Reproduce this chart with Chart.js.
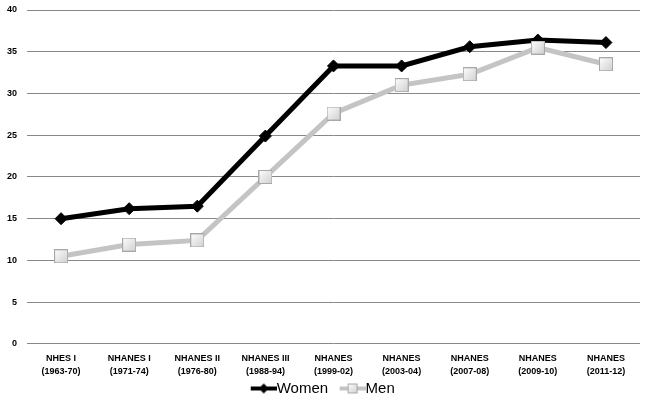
<!DOCTYPE html>
<html>
<head>
<meta charset="utf-8">
<script src="https://cdn.jsdelivr.net/npm/chart.js@4"></script>
<style>
  html, body { margin: 0; padding: 0; background: #fff; }
  #wrap { width: 645px; height: 402px; }
</style>
</head>
<body>
<div id="wrap"><canvas id="chart"></canvas></div>
<script>
// survey periods (two-line labels)
var categories = [
  ['NHES I', '(1963-70)'],
  ['NHANES I', '(1971-74)'],
  ['NHANES II', '(1976-80)'],
  ['NHANES III', '(1988-94)'],
  ['NHANES', '(1999-02)'],
  ['NHANES', '(2003-04)'],
  ['NHANES', '(2007-08)'],
  ['NHANES', '(2009-10)'],
  ['NHANES', '(2011-12)']
];
var women = [15.0, 16.2, 16.5, 24.9, 33.3, 33.3, 35.6, 36.4, 36.1];
var men = [10.5, 11.9, 12.4, 20.0, 27.6, 31.0, 32.3, 35.5, 33.5];
var yTicks = [0, 5, 10, 15, 20, 25, 30, 35, 40];

// square marker with a light gradient, like the original
function squareMarker(size) {
  var c = document.createElement('canvas');
  c.width = size; c.height = size;
  var g = c.getContext('2d');
  var grad = g.createLinearGradient(0, 0, size, size);
  grad.addColorStop(0, '#ffffff');
  grad.addColorStop(1, '#cfcfcf');
  g.fillStyle = grad;
  g.fillRect(0.5, 0.5, size - 1, size - 1);
  g.strokeStyle = '#a8a8a8';
  g.lineWidth = 1;
  g.strokeRect(0.5, 0.5, size - 1, size - 1);
  return c;
}

// legend icon: thick line with the marker in the middle,
// with some empty room on the left so the text sits right after it
var ICON_PAD = 16;
function legendIcon(color, kind) {
  var c = document.createElement('canvas');
  c.width = ICON_PAD + 26; c.height = 12;
  var g = c.getContext('2d');
  g.translate(ICON_PAD, 0);
  g.strokeStyle = color;
  g.lineWidth = 4;
  g.beginPath(); g.moveTo(0, 6); g.lineTo(26, 6); g.stroke();
  if (kind === 'diamond') {
    g.fillStyle = '#000';
    g.beginPath();
    g.moveTo(13, 1); g.lineTo(18, 6); g.lineTo(13, 11); g.lineTo(8, 6);
    g.closePath(); g.fill();
  } else {
    g.drawImage(squareMarker(10), 8, 1);
  }
  return c;
}

var menMarker = squareMarker(14);

new Chart(document.getElementById('chart'), {
  type: 'line',
  data: {
    labels: categories,
    datasets: [
      {
        label: 'Women',
        data: women,
        borderColor: '#000000',
        borderWidth: 5,
        pointStyle: 'rectRot',
        pointRadius: 6,
        pointBackgroundColor: '#000000',
        pointBorderColor: '#000000',
        pointBorderWidth: 1,
        order: 2,
        tension: 0
      },
      {
        label: 'Men',
        data: men,
        borderColor: '#c4c4c4',
        borderWidth: 5,
        pointStyle: menMarker,
        pointRadius: 7,
        order: 1,
        tension: 0
      }
    ]
  },
  options: {
    responsive: true,
    maintainAspectRatio: false,
    animation: false,
    layout: { autoPadding: false, padding: { left: -3, right: 5, top: 0, bottom: -4 } },
    scales: {
      x: {
        offset: true,
        grid: { display: false },
        border: { display: false },
        ticks: {
          color: '#000',
          font: { family: 'Liberation Sans', size: 9, weight: 'bold', lineHeight: 1.45 },
          maxRotation: 0,
          autoSkip: false,
          padding: 0
        }
      },
      y: {
        min: 0,
        max: 40,
        afterBuildTicks: function (axis) {
          axis.ticks = yTicks.map(function (v) { return { value: v }; });
        },
        afterFit: function (axis) {
          axis.paddingTop = 10;
          axis.paddingBottom = 5;
        },
        grid: { color: '#888888', lineWidth: 1, drawTicks: false },
        border: { display: false },
        ticks: {
          color: '#000',
          font: { family: 'Liberation Sans', size: 9, weight: 'bold' },
          padding: 10
        }
      }
    },
    plugins: {
      tooltip: { enabled: false },
      legend: {
        position: 'bottom',
        labels: {
          usePointStyle: true,
          pointStyleWidth: 27,
          color: '#000',
          font: { family: 'Liberation Sans', size: 15 },
          padding: 3,
          generateLabels: function (chart) {
            return chart.data.datasets.map(function (ds, i) {
              return {
                text: ds.label,
                datasetIndex: i,
                hidden: false,
                fontColor: '#000',
                pointStyle: i === 0 ? legendIcon('#000', 'diamond') : legendIcon('#c4c4c4', 'square'),
                lineWidth: 0,
                strokeStyle: 'transparent',
                fillStyle: 'transparent'
              };
            });
          }
        }
      }
    }
  }
});
</script>
</body>
</html>
